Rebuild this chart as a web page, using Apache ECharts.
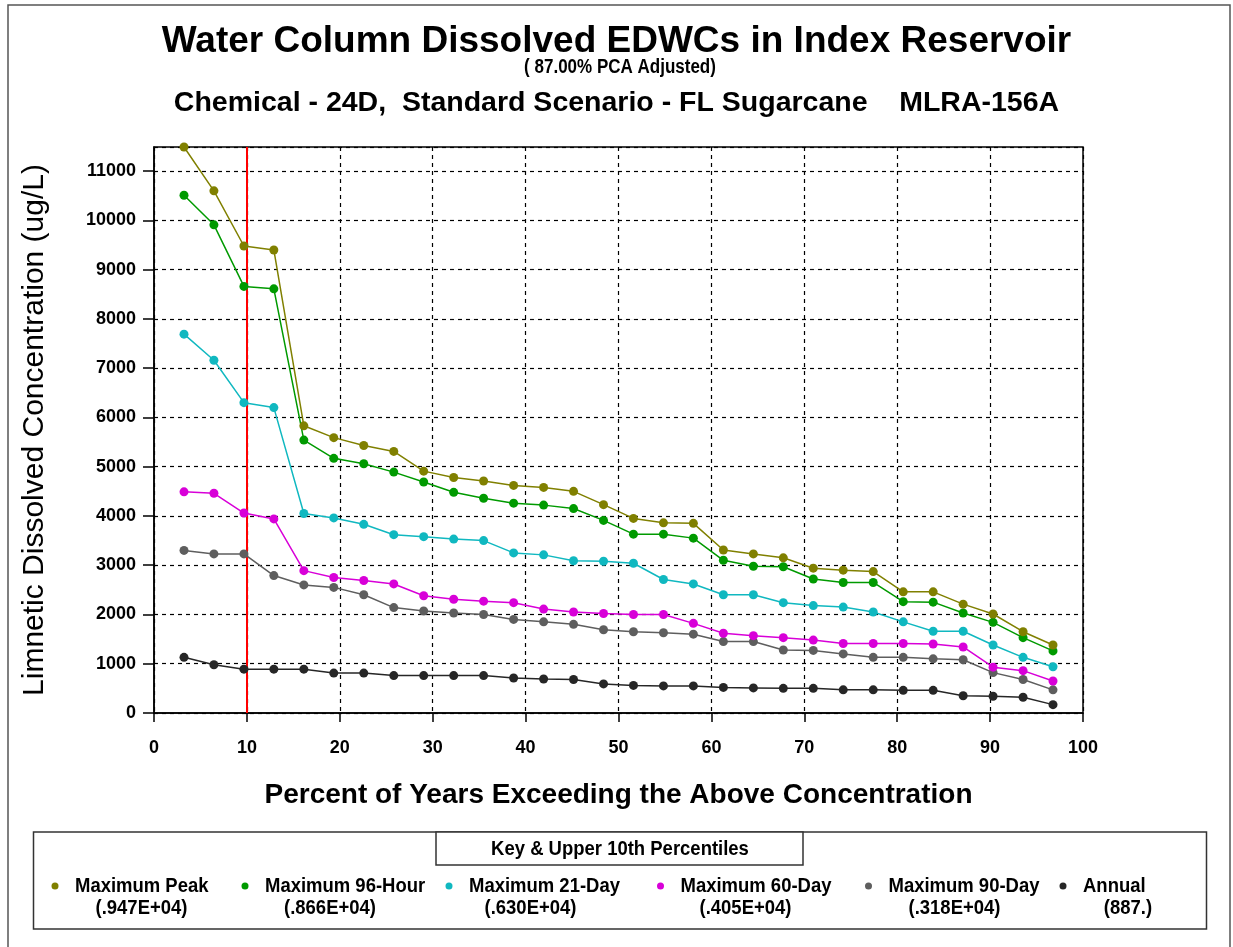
<!DOCTYPE html>
<html>
<head>
<meta charset="utf-8">
<script src="https://cdn.jsdelivr.net/npm/echarts@6/dist/echarts.min.js"></script>
<style>
html,body{margin:0;padding:0;background:#fff;}
#chart{width:1233px;height:947px;}
</style>
</head>
<body>
<div id="chart"></div>
<script>
const titleMain = 'Water Column Dissolved EDWCs in Index Reservoir';
const titleSub = '( 87.00% PCA Adjusted)';
const titleChem = 'Chemical - 24D,  Standard Scenario - FL Sugarcane    MLRA-156A';
const xAxisTitle = 'Percent of Years Exceeding the Above Concentration';
const yAxisTitle = 'Limnetic Dissolved Concentration (ug/L)';
const keyTitle = 'Key & Upper 10th Percentiles';

const xPct = [3.23, 6.45, 9.68, 12.90, 16.13, 19.35, 22.58, 25.81, 29.03, 32.26, 35.48, 38.71, 41.94, 45.16, 48.39, 51.61, 54.84, 58.06, 61.29, 64.52, 67.74, 70.97, 74.19, 77.42, 80.65, 83.87, 87.10, 90.32, 93.55, 96.77];

const maxPeak = [11490,10600,9480,9400,5830,5590,5430,5310,4910,4780,4710,4620,4580,4500,4230,3950,3860,3850,3310,3230,3150,2940,2900,2870,2460,2460,2210,2010,1650,1380];
const max96Hour = [10510,9910,8660,8610,5540,5170,5060,4890,4690,4480,4360,4260,4220,4150,3910,3630,3630,3550,3100,2980,2970,2720,2650,2650,2260,2250,2030,1840,1530,1260];
const max21Day = [7690,7160,6300,6200,4050,3960,3830,3620,3580,3530,3500,3250,3210,3090,3080,3040,2710,2620,2400,2400,2240,2180,2150,2050,1850,1660,1660,1380,1130,940];
const max60Day = [4490,4460,4060,3940,2890,2750,2690,2620,2380,2310,2270,2240,2110,2050,2020,2000,2000,1820,1620,1570,1530,1480,1410,1410,1410,1400,1340,930,860,650];
const max90Day = [3300,3230,3230,2790,2600,2550,2400,2140,2070,2030,2000,1900,1850,1800,1690,1650,1630,1600,1450,1450,1280,1270,1200,1130,1130,1100,1080,820,680,470];
const annual = [1130,980,890,890,890,810,810,760,760,760,760,710,690,680,590,560,550,550,520,510,500,500,470,470,460,460,350,340,320,170];

const seriesNames = ['Maximum Peak','Maximum 96-Hour','Maximum 21-Day','Maximum 60-Day','Maximum 90-Day','Annual'];
const upperTenth = ['(.947E+04)','(.866E+04)','(.630E+04)','(.405E+04)','(.318E+04)','(887.)'];
const seriesValues = [maxPeak, max96Hour, max21Day, max60Day, max90Day, annual];
const referencePct = 10;

const colors = ['#808000','#009a00','#10b8c0','#d800d8','#5e5e5e','#262626'];
const SANS = "'Liberation Sans',Arial,sans-serif";

const chart = echarts.init(document.getElementById('chart'));

const series = seriesValues.map((vals, i) => ({
  name: seriesNames[i],
  type: 'line',
  data: vals.map((v, j) => [xPct[j], v]),
  symbol: 'circle',
  symbolSize: 9,
  itemStyle: {color: colors[i]},
  lineStyle: {color: colors[i], width: 1.5},
  z: 10 - i,
  animation: false
}));
series[0].markLine = {
  silent: true,
  symbol: 'none',
  label: {show: false},
  lineStyle: {color: '#ff0000', width: 2, type: 'solid', opacity: 1},
  emphasis: {disabled: true},
  data: [{xAxis: referencePct}],
  animation: false
};

// legend key drawn as graphic
const NX = 0.88;
const keyX = [55, 245, 449, 660.5, 868.5, 1063];
const keyValX = [141.5, 330, 530.5, 745.5, 954.5, 1128];
const graphics = [
  {type:'rect', shape:{x:8, y:5, width:1222, height:970}, style:{fill:'none', stroke:'#555', lineWidth:1.5}, z:0, silent:true},
  {type:'text', x:620, y:67, scaleX:0.85, style:{text:titleSub, font:"bold 20px " + SANS, fill:'#000', textAlign:'center', textVerticalAlign:'middle'}, z:3},
  {type:'rect', shape:{x:33.5, y:832, width:1173, height:97}, style:{fill:'#fff', stroke:'#333', lineWidth:1.5}, z:1},
  {type:'rect', shape:{x:436, y:832, width:367, height:33}, style:{fill:'#fff', stroke:'#333', lineWidth:1.5}, z:2},
  {type:'text', x:620, y:849, scaleX:NX, style:{text:keyTitle, font:"bold 21px " + SANS, fill:'#000', textAlign:'center', textVerticalAlign:'middle'}, z:3}
];
seriesNames.forEach((n, i) => {
  graphics.push({type:'circle', shape:{cx:keyX[i], cy:886, r:3.5}, style:{fill:colors[i]}, z:3});
  graphics.push({type:'text', x:keyX[i] + 20, y:886, scaleX:NX, style:{text:n, font:"bold 21px " + SANS, fill:'#000', textAlign:'left', textVerticalAlign:'middle'}, z:3});
  graphics.push({type:'text', x:keyValX[i], y:908, scaleX:NX, style:{text:upperTenth[i], font:"bold 21px " + SANS, fill:'#000', textAlign:'center', textVerticalAlign:'middle'}, z:3});
});

chart.setOption({
  backgroundColor: '#fff',
  animation: false,
  title: [
    {text: titleMain, left: 'center', top: 18, textStyle: {fontFamily: SANS, fontWeight: 'bold', fontSize: 37, color: '#000'}},
    {text: titleChem, left: 'center', top: 84, textStyle: {fontFamily: SANS, fontWeight: 'bold', fontSize: 28.5, color: '#000'}}
  ],
  grid: {left: 154, right: 150, top: 147, bottom: 234, show: true, borderColor: '#000', borderWidth: 1.5, backgroundColor: 'transparent'},
  xAxis: {
    type: 'value', min: 0, max: 100, interval: 10,
    name: xAxisTitle, nameLocation: 'middle', nameGap: 68,
    nameTextStyle: {fontFamily: SANS, fontWeight: 'bold', fontSize: 28, color: '#000'},
    axisLine: {lineStyle: {color: '#000', width: 1.5}},
    axisTick: {show: true, inside: false, length: 9, lineStyle: {color: '#000', width: 1.5}},
    axisLabel: {margin: 26, fontFamily: SANS, fontWeight: 'bold', fontSize: 18, color: '#000'},
    splitLine: {show: true, lineStyle: {color: '#000', width: 1.2, type: [4, 4]}}
  },
  yAxis: {
    type: 'value', min: 0, max: 11490, interval: 1000,
    name: yAxisTitle, nameLocation: 'middle', nameGap: 104, nameRotate: 90,
    nameTextStyle: {fontFamily: SANS, fontWeight: 'normal', fontSize: 30, color: '#000'},
    axisLine: {show: true, lineStyle: {color: '#000', width: 1.5}},
    axisTick: {show: true, inside: false, length: 11, lineStyle: {color: '#000', width: 1.5}},
    axisLabel: {margin: 18, showMaxLabel: false, formatter: v => String(v), fontFamily: SANS, fontWeight: 'bold', fontSize: 18, color: '#000'},
    splitLine: {show: true, lineStyle: {color: '#000', width: 1.2, type: [4, 4]}}
  },
  series: series,
  graphic: graphics
});
</script>
</body>
</html>
